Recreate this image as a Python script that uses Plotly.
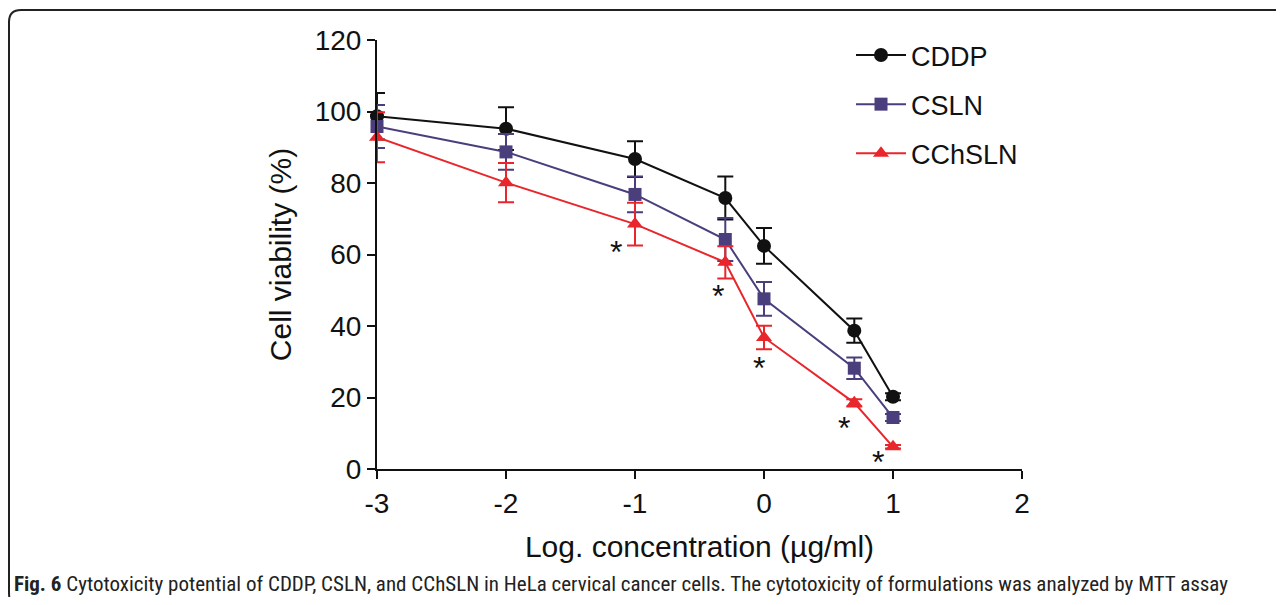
import plotly.graph_objects as go

# ---- data ----
log_conc = [-3, -2, -1, -0.3, 0, 0.7, 1]
cddp = [98.7, 95.2, 86.7, 75.8, 62.4, 38.7, 20.2]
cddp_err = [6.5, 6.0, 5.0, 6.0, 5.0, 3.4, 1.0]
csln = [95.8, 88.7, 76.8, 64.2, 47.6, 28.2, 14.4]
csln_err = [6.0, 5.0, 5.0, 6.0, 4.7, 3.0, 1.0]
cchsln = [92.8, 80.1, 68.5, 57.8, 36.8, 18.5, 6.2]
cchsln_err = [7.0, 5.5, 6.0, 4.5, 3.3, 1.0, 0.5]
star_x = [-1.15, -0.36, -0.04, 0.62, 0.88]
star_y = [61.8, 49.5, 29.4, 12.6, 3.1]
x_ticks = [-3, -2, -1, 0, 1, 2]
y_ticks = [0, 20, 40, 60, 80, 100, 120]

OFF = 8  # page body margin
W, H = 1284 - 2 * OFF, 605 - 2 * OFF
L, R, T, B = 377 - OFF, 1022 - OFF, 40 - OFF, 469 - OFF  # plot area in figure pixels

def px(xp):  # reference window pixel -> paper x
    return (xp - OFF - L) / (R - L)

def py(yp):  # reference window pixel -> paper y
    return (B - (yp - OFF)) / (B - T)

series = [
    ("CDDP", cddp, cddp_err, "#111111", "circle", 14),
    ("CSLN", csln, csln_err, "#4a3e7c", "square", 13),
    ("CChSLN", cchsln, cchsln_err, "#e8262b", "triangle-up", 14),
]

fig = go.Figure()
for name, ys, errs, col, sym, sz in series:
    fig.add_trace(go.Scatter(
        x=log_conc, y=ys, name=name, mode="lines+markers",
        legendgroup=name,
        line=dict(color=col, width=2),
        marker=dict(symbol=sym, size=sz, color=col),
        error_y=dict(type="data", array=errs, visible=True, color=col,
                     thickness=2, width=8),
        cliponaxis=False,
    ))

for sx, sy in zip(star_x, star_y):
    fig.add_annotation(x=sx, y=sy, text="*", showarrow=False,
                       font=dict(family="Arial, Liberation Sans", size=32, color="#111"),
                       yshift=-4)

axis_common = dict(showline=True, linecolor="#111", linewidth=2,
                   ticks="outside", ticklen=8, tickwidth=2, tickcolor="#111",
                   showgrid=False, zeroline=False,
                   tickfont=dict(family="Arial, Liberation Sans", size=28, color="#111"))

fig.update_xaxes(range=[-3, 2], tickvals=x_ticks, ticktext=[str(v) for v in x_ticks],
                 title=dict(text="Log. concentration (µg/ml)", standoff=18,
                            font=dict(family="Arial, Liberation Sans", size=30, color="#111")),
                 **axis_common)
fig.update_yaxes(range=[0, 120], tickvals=y_ticks,
                 title=dict(text="Cell viability (%)", standoff=14,
                            font=dict(family="Arial, Liberation Sans", size=30, color="#111")),
                 **axis_common)

# figure frame (rounded left corners)
frame = (f"M {px(1300)},{py(10)} L {px(21)},{py(10)} "
         f"Q {px(9)},{py(10)} {px(9)},{py(22)} "
         f"L {px(9)},{py(592)} Q {px(9)},{py(603)} {px(14)},{py(610)}")
fig.add_shape(type="path", path=frame, xref="paper", yref="paper",
              line=dict(color="#222", width=2))

fig.add_annotation(xref="paper", yref="paper", x=px(12), y=py(584),
                   xanchor="left", yanchor="middle", showarrow=False,
                   text="<b>Fig. 6</b> Cytotoxicity potential of CDDP, CSLN, and CChSLN in HeLa cervical cancer cells. The cytotoxicity of formulations was analyzed by MTT assay",
                   font=dict(family="Roboto Condensed, Roboto, Liberation Sans Narrow", size=21, color="#222"))

fig.update_layout(
    width=W, height=H, autosize=False,
    margin=dict(l=L, r=W - R, t=T, b=H - B, pad=0),
    paper_bgcolor="white", plot_bgcolor="white",
    showlegend=True,
    legend=dict(x=px(851), y=py(31), xanchor="left", yanchor="top",
                itemwidth=50,
                font=dict(family="Arial, Liberation Sans", size=27, color="#111"),
                tracegroupgap=11, bgcolor="rgba(0,0,0,0)"),
)

fig.write_html("out.html")
